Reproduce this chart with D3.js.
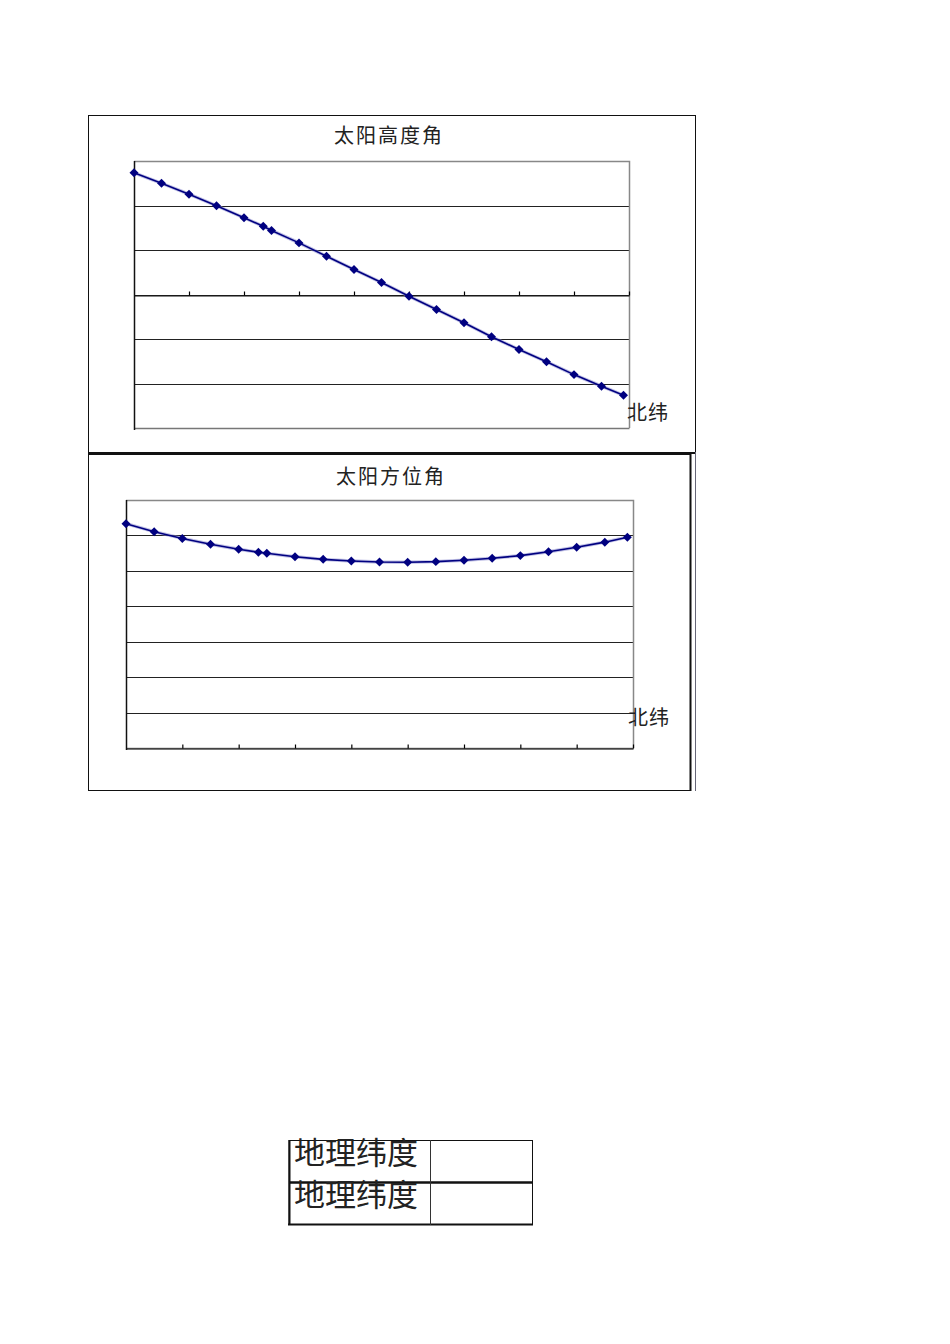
<!DOCTYPE html>
<html>
<head>
<meta charset="utf-8">
<script src="https://cdn.jsdelivr.net/npm/d3@7"></script>
<style>
  body { margin: 0; background: #fff; }
  svg { display: block; }
  .title, .unit, .cell { font-family: "Noto Sans CJK SC", sans-serif; fill: #222; }
  .grid line { stroke: #222; shape-rendering: crispEdges; }
  .grid .domain { display: none; }
</style>
</head>
<body>
<script>
// latitude (north), degrees
var latitudes = [0, 5, 10, 15, 20, 23.5, 25, 30, 35, 40, 45, 50, 55, 60, 65, 70, 75, 80, 85, 89];
// solar altitude angle
var altitude = [54.7, 50.0, 45.1, 39.9, 34.5, 30.7, 28.8, 23.2, 17.2, 11.2, 5.4, -0.8, -6.7,
                -12.7, -19.0, -24.7, -30.2, -36.0, -41.2, -45.3];
// solar azimuth angle
var azimuth = [126.6, 122.1, 118.3, 115.0, 112.2, 110.5, 109.9, 108.0, 106.5, 105.6, 105.0,
               104.9, 105.2, 106.0, 107.1, 108.6, 110.8, 113.3, 116.2, 119.0];
var xTicks = [0, 10, 20, 30, 40, 50, 60, 70, 80, 90];
var altTicks = [-60, -40, -20, 0, 20, 40, 60];
var aziTicks = [0, 20, 40, 60, 80, 100, 120, 140];
var tableRows = ["地理纬度", "地理纬度"];

var svg = d3.select("body").append("svg")
    .attr("width", 950)
    .attr("height", 1344);

// chart frames
svg.append("rect").attr("x", 88.5).attr("y", 115.5).attr("width", 607).attr("height", 337)
   .attr("fill", "none").attr("stroke", "#111");
svg.append("line").attr("x1", 88).attr("x2", 696).attr("y1", 453).attr("y2", 453)
   .attr("stroke", "#111").attr("stroke-width", 2);
svg.append("rect").attr("x", 88.5).attr("y", 454.5).attr("width", 602).attr("height", 336)
   .attr("fill", "none").attr("stroke", "#111");
svg.append("line").attr("x1", 690.5).attr("x2", 690.5).attr("y1", 454).attr("y2", 791)
   .attr("stroke", "#111").attr("stroke-width", 2);
svg.append("line").attr("x1", 695.5).attr("x2", 695.5).attr("y1", 452).attr("y2", 791)
   .attr("stroke", "#667");

function drawChart(opt) {
  var x = d3.scaleLinear().domain([0, 90]).range([opt.left, opt.right]);
  var y = d3.scaleLinear().domain(opt.yDomain).range([opt.bottom, opt.top]);
  var g = svg.append("g");

  // gridlines
  g.append("g").attr("class", "grid")
    .attr("transform", "translate(" + opt.left + ",0)")
    .call(d3.axisLeft(y).tickValues(opt.yTicks).tickSize(-(opt.right - opt.left)).tickFormat(""));

  // plot border top/right
  g.append("path")
    .attr("d", "M" + opt.left + "," + (opt.top + 0.5) + "H" + (opt.right + 0.5) + "V" + opt.bottom)
    .attr("fill", "none").attr("stroke", "#888").attr("stroke-width", 1.5);
  g.append("line")
    .attr("x1", opt.left).attr("x2", opt.right + 0.5)
    .attr("y1", opt.bottom + 0.5).attr("y2", opt.bottom + 0.5)
    .attr("stroke", "#777").attr("stroke-width", 1.5);

  // y axis line
  g.append("line")
    .attr("x1", opt.left + 0.5).attr("x2", opt.left + 0.5)
    .attr("y1", opt.top).attr("y2", opt.bottom + 2)
    .attr("stroke", "#111").attr("stroke-width", 1.5);

  // x axis at y = xAt
  var ax = g.append("g")
    .attr("transform", "translate(0," + (Math.round(y(opt.xAt)) + 0.5) + ")")
    .call(d3.axisTop(x).tickValues(xTicks.slice(1)).tickSizeInner(4).tickSizeOuter(0).tickFormat(""));
  ax.select(".domain").attr("stroke", "#111");
  ax.selectAll(".tick line").attr("stroke", "#000").attr("stroke-width", 1.2);

  // series
  var pts = latitudes.map(function(l, i) { return [l, opt.values[i]]; });
  var line = d3.line().x(function(d) { return x(d[0]); }).y(function(d) { return y(d[1]); });
  g.append("path").datum(pts).attr("d", line)
    .attr("fill", "none").attr("stroke", "#8c8cd0").attr("stroke-width", 3.4).attr("stroke-opacity", 0.55);
  g.append("path").datum(pts).attr("d", line)
    .attr("fill", "none").attr("stroke", "#000080").attr("stroke-width", 1.6);

  var sym = d3.symbol().type(d3.symbolSquare).size(40);
  g.selectAll(".pt").data(pts).enter().append("path")
    .attr("class", "pt")
    .attr("d", sym)
    .attr("transform", function(d) { return "translate(" + x(d[0]) + "," + y(d[1]) + ") rotate(45)"; })
    .attr("fill", "#000080");

  // title and unit label
  svg.append("text").attr("class", "title")
    .attr("x", opt.titleX).attr("y", opt.titleY)
    .attr("text-anchor", "middle")
    .style("font-size", "20px").style("letter-spacing", "2px")
    .text(opt.title);
  svg.append("text").attr("class", "unit")
    .attr("x", opt.unitX).attr("y", opt.unitY)
    .style("font-size", "20px").style("letter-spacing", "1px")
    .text("北纬");
}

drawChart({
  left: 134, right: 629, top: 161, bottom: 428,
  yDomain: [-60, 60], yTicks: altTicks, xAt: 0,
  values: altitude, title: "太阳高度角",
  titleX: 389, titleY: 143, unitX: 627, unitY: 420
});

drawChart({
  left: 126, right: 633, top: 500, bottom: 748,
  yDomain: [0, 140], yTicks: aziTicks, xAt: 0,
  values: azimuth, title: "太阳方位角",
  titleX: 391, titleY: 484, unitX: 628, unitY: 725
});

// small table at the bottom
var table = svg.append("g");
table.append("rect").attr("x", 289).attr("y", 1140.5).attr("width", 243.5).attr("height", 84)
  .attr("fill", "none").attr("stroke", "#111");
table.append("line").attr("x1", 289.5).attr("x2", 289.5).attr("y1", 1140).attr("y2", 1225)
  .attr("stroke", "#111").attr("stroke-width", 2);
table.append("line").attr("x1", 288).attr("x2", 533).attr("y1", 1224.5).attr("y2", 1224.5)
  .attr("stroke", "#111").attr("stroke-width", 2);
table.append("line").attr("x1", 289).attr("x2", 533).attr("y1", 1182.5).attr("y2", 1182.5)
  .attr("stroke", "#111").attr("stroke-width", 2.5);
table.append("line").attr("x1", 430.5).attr("x2", 430.5).attr("y1", 1140).attr("y2", 1225)
  .attr("stroke", "#333");
table.selectAll(".cell").data(tableRows).enter().append("text")
  .attr("class", "cell")
  .attr("x", 294)
  .attr("y", function(d, i) { return 1164 + i * 42; })
  .style("font-size", "31px")
  .text(function(d) { return d; });
</script>
</body>
</html>
